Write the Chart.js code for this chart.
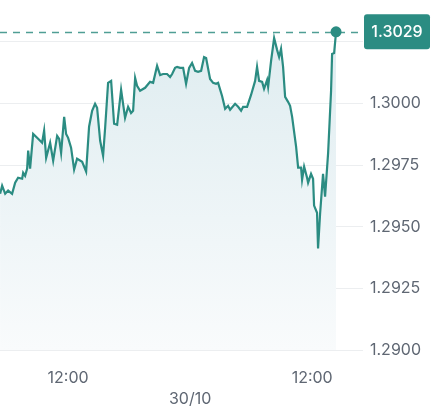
<!DOCTYPE html>
<html lang="en">
<head>
    <meta charset="UTF-8">
    <title>GBP/USD intraday</title>
    <script src="https://cdn.jsdelivr.net/npm/chart.js"></script>
    <style>
        html, body {
            margin: 0;
            padding: 0;
            background: #ffffff;
        }

        .chart-box {
            width: 442px;
            height: 410px;
        }
    </style>
</head>
<body>
    <div class="chart-box">
        <canvas id="priceChart"></canvas>
    </div>

    <script>
        // hours counted from 29/10 00:00
        const times = [
            5.31, 5.51, 5.81, 6.10, 6.49, 6.79, 7.08, 7.48, 7.58, 7.77,
            7.97, 8.07, 8.26, 8.56, 9.05, 9.44, 9.64, 9.84, 10.23, 10.53,
            10.92, 11.12, 11.31, 11.61, 11.80, 12.00, 12.29, 12.59, 12.88, 13.38,
            13.77, 14.06, 14.36, 14.65, 14.85, 15.15, 15.44, 15.64, 15.93, 16.23,
            16.52, 16.82, 17.21, 17.60, 17.90, 18.19, 18.39, 18.59, 18.78, 19.08,
            19.57, 20.06, 20.36, 20.75, 21.05, 21.34, 21.73, 22.03, 22.23, 22.52,
            22.72, 23.01, 23.31, 23.60, 23.90, 24.19, 24.49, 24.78, 25.08, 25.37,
            25.57, 25.96, 26.26, 26.55, 26.75, 27.14, 27.44, 27.73, 27.93, 28.42,
            28.72, 29.01, 29.21, 29.60, 29.99, 30.39, 30.58, 30.78, 31.08, 31.27,
            31.57, 31.67, 31.96, 32.26, 32.55, 32.75, 32.94, 33.14, 33.34, 33.63,
            33.83, 34.03, 34.42, 34.62, 34.91, 35.01, 35.21, 35.50, 35.60, 35.89,
            36.09, 36.19, 36.48, 36.58, 36.78, 37.07, 37.27, 37.57, 37.86, 37.96,
            38.16, 38.35
        ];

        const prices = [
            1.29634, 1.29667, 1.29634, 1.29647, 1.29634, 1.29679, 1.29699, 1.29695, 1.29719, 1.29707,
            1.29736, 1.29809, 1.29736, 1.29877, 1.29857, 1.29841, 1.29890, 1.29780, 1.29841, 1.29768,
            1.29869, 1.29857, 1.29800, 1.29946, 1.29877, 1.29861, 1.29821, 1.29732, 1.29776, 1.29764,
            1.29724, 1.29906, 1.29971, 1.29999, 1.29983, 1.29849, 1.29788, 1.29902, 1.30084, 1.30092,
            1.29918, 1.29914, 1.30056, 1.29942, 1.29987, 1.29962, 1.29971, 1.30104, 1.30072, 1.30052,
            1.30064, 1.30088, 1.30084, 1.30153, 1.30116, 1.30120, 1.30120, 1.30108, 1.30120, 1.30145,
            1.30149, 1.30145, 1.30145, 1.30080, 1.30145, 1.30165, 1.30133, 1.30129, 1.30133, 1.30189,
            1.30185, 1.30100, 1.30084, 1.30080, 1.30084, 1.30031, 1.29979, 1.29991, 1.29975, 1.29999,
            1.29987, 1.29971, 1.29987, 1.29987, 1.30035, 1.30092, 1.30149, 1.30092, 1.30088, 1.30060,
            1.30096, 1.30068, 1.30173, 1.30266, 1.30218, 1.30189, 1.30222, 1.30149, 1.30027, 1.30007,
            1.29991, 1.29946, 1.29825, 1.29740, 1.29740, 1.29691, 1.29744, 1.29699, 1.29679, 1.29715,
            1.29695, 1.29586, 1.29557, 1.29412, 1.29553, 1.29715, 1.29622, 1.29800, 1.30052, 1.30201,
            1.30205, 1.30291
        ];

        const xTickValues = [12, 24, 36];
        const xTickLabels = [['12:00'], ['', '30/10'], ['12:00']];
        const yTickValues = [1.2900, 1.2925, 1.2950, 1.2975, 1.3000, 1.3025];

        const teal = '#2b8c82';
        const labelGray = '#5f6773';
        const lastIndex = prices.length - 1;
        const lastPrice = prices[lastIndex];

        // the scales would reserve room for labels at their ends; not needed here
        function noEdgePadding(scale) {
            scale.paddingLeft = 0;
            scale.paddingRight = 0;
            scale.paddingTop = 0;
            scale.paddingBottom = 0;
        }

        // dashed guide at the last price, plus the value badge on the axis
        const lastPricePlugin = {
            id: 'lastPrice',
            beforeDatasetsDraw(chart) {
                const { ctx, chartArea, scales } = chart;
                const y = Math.round(scales.y.getPixelForValue(lastPrice)) + 0.5;
                ctx.save();
                ctx.strokeStyle = '#4f9e95';
                ctx.lineWidth = 1.3;
                ctx.setLineDash([7, 6]);
                ctx.beginPath();
                ctx.moveTo(chartArea.left, y);
                ctx.lineTo(chartArea.right + 1, y);
                ctx.stroke();
                ctx.restore();
            },
            afterDraw(chart) {
                const { ctx, chartArea, scales } = chart;
                const y = scales.y.getPixelForValue(lastPrice);
                const left = chartArea.right + 1;
                const w = 66, h = 35;
                ctx.save();
                ctx.fillStyle = teal;
                ctx.beginPath();
                ctx.roundRect(left, y - h / 2, w, h, 3);
                ctx.fill();
                ctx.fillStyle = '#ffffff';
                ctx.font = '500 16px Inter';
                ctx.textAlign = 'center';
                ctx.textBaseline = 'middle';
                ctx.fillText(lastPrice.toFixed(4), left + w / 2, y + 0.5);
                ctx.restore();
            }
        };

        const priceChart = new Chart(document.getElementById('priceChart'), {
            type: 'line',
            data: {
                datasets: [{
                    data: times.map((t, i) => ({ x: t, y: prices[i] })),
                    borderColor: teal,
                    borderWidth: 2.2,
                    tension: 0,
                    fill: 'start',
                    backgroundColor: (context) => {
                        const area = context.chart.chartArea;
                        if (!area) return '#e6f0f3';
                        const g = context.chart.ctx.createLinearGradient(0, area.top, 0, area.bottom);
                        g.addColorStop(0, '#dcebef');
                        g.addColorStop(1, '#f9fbfc');
                        return g;
                    },
                    pointRadius: (context) => context.dataIndex === lastIndex ? 5.5 : 0,
                    pointBackgroundColor: teal,
                    pointBorderWidth: 0,
                    pointHoverRadius: 0
                }]
            },
            options: {
                responsive: true,
                maintainAspectRatio: false,
                animation: false,
                layout: {
                    autoPadding: false,
                    padding: { top: 5, left: 0, right: 0, bottom: 0 }
                },
                plugins: {
                    legend: { display: false },
                    tooltip: { enabled: false }
                },
                scales: {
                    x: {
                        type: 'linear',
                        min: 5.3,
                        max: 41,
                        afterBuildTicks: (scale) => {
                            scale.ticks = xTickValues.map(v => ({ value: v }));
                        },
                        afterFit: (scale) => {
                            scale.height = 60;
                            noEdgePadding(scale);
                        },
                        grid: { display: false, drawTicks: false },
                        border: { display: false },
                        ticks: {
                            autoSkip: false,
                            maxRotation: 0,
                            padding: 18,
                            color: labelGray,
                            font: { family: 'Inter', size: 16, lineHeight: 1.3 },
                            callback: (value, index) => xTickLabels[index]
                        }
                    },
                    y: {
                        position: 'right',
                        min: 1.2900,
                        max: 1.3040,
                        afterBuildTicks: (scale) => {
                            scale.ticks = yTickValues.map(v => ({ value: v }));
                        },
                        afterFit: (scale) => {
                            scale.width = 79;
                            noEdgePadding(scale);
                        },
                        grid: { color: '#eceef0', lineWidth: 1, drawTicks: false },
                        border: { display: false },
                        ticks: {
                            padding: 7,
                            color: labelGray,
                            font: { family: 'Inter', size: 16 },
                            callback: (value) => Number(value).toFixed(4)
                        }
                    }
                }
            },
            plugins: [lastPricePlugin]
        });
    </script>
</body>
</html>
